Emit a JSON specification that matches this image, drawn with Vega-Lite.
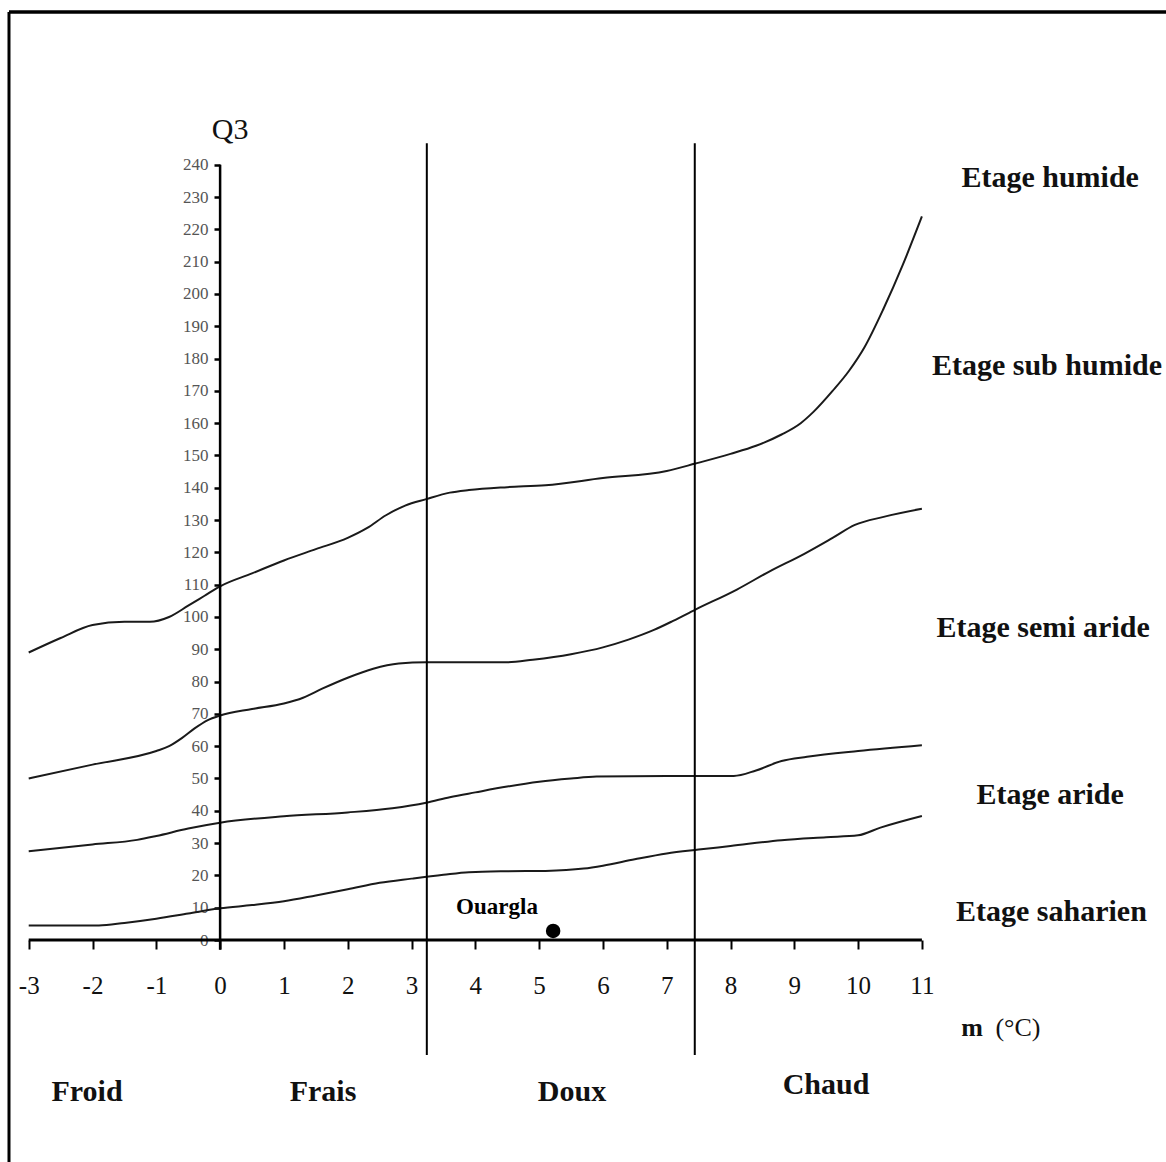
{
  "$schema": "https://vega.github.io/schema/vega-lite/v6.json",
  "width": 1166,
  "height": 1162,
  "padding": 0,
  "autosize": {"type": "none"},
  "background": "white",
  "config": {"view": {"stroke": null}, "font": "Liberation Serif"},
  "datasets": {
    "curves": [
      {"c": "c1", "x": -3, "q": 89}, {"c": "c1", "x": -2.5, "q": 93.5}, {"c": "c1", "x": -2, "q": 97.5}, {"c": "c1", "x": -1.5, "q": 98.5}, {"c": "c1", "x": -1.1, "q": 98.5}, {"c": "c1", "x": -0.8, "q": 100}, {"c": "c1", "x": -0.5, "q": 103.5}, {"c": "c1", "x": -0.25, "q": 106.5}, {"c": "c1", "x": 0, "q": 109.5}, {"c": "c1", "x": 0.5, "q": 113.5}, {"c": "c1", "x": 1, "q": 117.5}, {"c": "c1", "x": 1.5, "q": 121}, {"c": "c1", "x": 2, "q": 124.5}, {"c": "c1", "x": 2.3, "q": 127.5}, {"c": "c1", "x": 2.6, "q": 131.5}, {"c": "c1", "x": 2.9, "q": 134.5}, {"c": "c1", "x": 3.23, "q": 136.5}, {"c": "c1", "x": 3.6, "q": 138.5}, {"c": "c1", "x": 3.9, "q": 139.3}, {"c": "c1", "x": 4.5, "q": 140.2}, {"c": "c1", "x": 5.1, "q": 140.8}, {"c": "c1", "x": 6, "q": 143}, {"c": "c1", "x": 7, "q": 145.2}, {"c": "c1", "x": 7.45, "q": 147.5}, {"c": "c1", "x": 8, "q": 150.5}, {"c": "c1", "x": 8.4, "q": 153}, {"c": "c1", "x": 8.8, "q": 156.5}, {"c": "c1", "x": 9.1, "q": 160}, {"c": "c1", "x": 9.3, "q": 163.5}, {"c": "c1", "x": 9.6, "q": 170}, {"c": "c1", "x": 9.85, "q": 176}, {"c": "c1", "x": 10.1, "q": 183.5}, {"c": "c1", "x": 10.4, "q": 195.5}, {"c": "c1", "x": 10.7, "q": 209}, {"c": "c1", "x": 11, "q": 224},
      {"c": "c2", "x": -3, "q": 50}, {"c": "c2", "x": -2, "q": 54.3}, {"c": "c2", "x": -1, "q": 58.5}, {"c": "c2", "x": -0.8, "q": 60}, {"c": "c2", "x": -0.6, "q": 62.5}, {"c": "c2", "x": -0.4, "q": 65.5}, {"c": "c2", "x": -0.2, "q": 68}, {"c": "c2", "x": 0, "q": 69.5}, {"c": "c2", "x": 0.5, "q": 71.5}, {"c": "c2", "x": 1, "q": 73.2}, {"c": "c2", "x": 1.3, "q": 75}, {"c": "c2", "x": 1.6, "q": 77.8}, {"c": "c2", "x": 2, "q": 81.2}, {"c": "c2", "x": 2.4, "q": 84}, {"c": "c2", "x": 2.8, "q": 85.6}, {"c": "c2", "x": 3.23, "q": 86}, {"c": "c2", "x": 4.5, "q": 86}, {"c": "c2", "x": 4.9, "q": 86.8}, {"c": "c2", "x": 5.5, "q": 88.5}, {"c": "c2", "x": 6, "q": 90.6}, {"c": "c2", "x": 6.4, "q": 93}, {"c": "c2", "x": 6.8, "q": 96}, {"c": "c2", "x": 7.1, "q": 98.8}, {"c": "c2", "x": 7.45, "q": 102.3}, {"c": "c2", "x": 8.1, "q": 108.5}, {"c": "c2", "x": 8.6, "q": 114}, {"c": "c2", "x": 9.15, "q": 119.5}, {"c": "c2", "x": 9.6, "q": 124.5}, {"c": "c2", "x": 9.95, "q": 128.5}, {"c": "c2", "x": 10.4, "q": 131}, {"c": "c2", "x": 11, "q": 133.5},
      {"c": "c3", "x": -3, "q": 27.5}, {"c": "c3", "x": -2, "q": 29.6}, {"c": "c3", "x": -1.3, "q": 31}, {"c": "c3", "x": -1, "q": 32.2}, {"c": "c3", "x": -0.5, "q": 34.5}, {"c": "c3", "x": 0, "q": 36.3}, {"c": "c3", "x": 1, "q": 38.3}, {"c": "c3", "x": 2, "q": 39.5}, {"c": "c3", "x": 2.7, "q": 40.8}, {"c": "c3", "x": 3.23, "q": 42.5}, {"c": "c3", "x": 3.6, "q": 44.2}, {"c": "c3", "x": 4, "q": 45.7}, {"c": "c3", "x": 4.5, "q": 47.5}, {"c": "c3", "x": 5, "q": 49}, {"c": "c3", "x": 5.5, "q": 50}, {"c": "c3", "x": 5.9, "q": 50.6}, {"c": "c3", "x": 7, "q": 50.8}, {"c": "c3", "x": 8.05, "q": 50.8}, {"c": "c3", "x": 8.4, "q": 52.5}, {"c": "c3", "x": 8.8, "q": 55.4}, {"c": "c3", "x": 9.2, "q": 56.7}, {"c": "c3", "x": 10, "q": 58.5}, {"c": "c3", "x": 11, "q": 60.3},
      {"c": "c4", "x": -3, "q": 4.5}, {"c": "c4", "x": -1.9, "q": 4.5}, {"c": "c4", "x": -1.5, "q": 5.3}, {"c": "c4", "x": -1, "q": 6.6}, {"c": "c4", "x": -0.5, "q": 8.2}, {"c": "c4", "x": 0, "q": 9.8}, {"c": "c4", "x": 0.5, "q": 10.8}, {"c": "c4", "x": 1, "q": 12}, {"c": "c4", "x": 1.5, "q": 13.8}, {"c": "c4", "x": 2, "q": 15.7}, {"c": "c4", "x": 2.5, "q": 17.7}, {"c": "c4", "x": 3, "q": 19}, {"c": "c4", "x": 3.5, "q": 20.2}, {"c": "c4", "x": 3.9, "q": 21}, {"c": "c4", "x": 4.5, "q": 21.3}, {"c": "c4", "x": 5.1, "q": 21.4}, {"c": "c4", "x": 5.7, "q": 22.1}, {"c": "c4", "x": 6, "q": 23}, {"c": "c4", "x": 6.5, "q": 25}, {"c": "c4", "x": 7, "q": 26.8}, {"c": "c4", "x": 7.5, "q": 28}, {"c": "c4", "x": 8, "q": 29.1}, {"c": "c4", "x": 8.8, "q": 30.9}, {"c": "c4", "x": 9.5, "q": 31.8}, {"c": "c4", "x": 10, "q": 32.4}, {"c": "c4", "x": 10.35, "q": 34.8}, {"c": "c4", "x": 11, "q": 38.4}
    ],
    "one": [{}],
    "vlines": [{"x": 3.24}, {"x": 7.44}],
    "station": [{"name": "Ouargla", "x": 5.22, "q": 2.8}],
    "stationLabel": [{"name": "Ouargla", "x": 4.34, "q": 10.2}],
    "zones": [
      {"label": "Etage humide", "x": 13.01, "q": 235.9},
      {"label": "Etage sub humide", "x": 12.96, "q": 177.7},
      {"label": "Etage semi aride", "x": 12.9, "q": 96.6},
      {"label": "Etage aride", "x": 13.01, "q": 44.9},
      {"label": "Etage saharien", "x": 13.03, "q": 8.7},
      {"label": "Froid", "x": -2.086, "q": -47.1},
      {"label": "Frais", "x": 1.613, "q": -47.1},
      {"label": "Doux", "x": 5.516, "q": -47.1},
      {"label": "Chaud", "x": 9.497, "q": -44.9}
    ],
    "ytitle": [{"label": "Q3", "x": 0.158, "q": 250.8}],
    "xtitleA": [{"label": "m", "x": 11.785, "q": -27.2}],
    "xtitleB": [{"label": "(°C)", "x": 12.506, "q": -27.2}]
  },
  "layer": [
    {
      "data": {"name": "curves"},
      "mark": {"type": "line", "interpolate": "monotone", "color": "#1a1a1a", "strokeWidth": 2},
      "encoding": {
        "x": {"field": "x", "type": "quantitative", "scale": {"domain": [-3.45, 14.826], "nice": false, "zero": false},
          "axis": {"orient": "bottom", "offset": -222, "values": [-3, -2, -1, 0, 1, 2, 3, 4, 5, 6, 7, 8, 9, 10, 11], "labelExpr": "'' + datum.value", "domain": false, "grid": false, "tickSize": 9, "tickWidth": 2, "tickColor": "#000", "labelFont": "Liberation Serif", "labelFontSize": 25, "labelColor": "#111", "labelPadding": 24, "labelFlush": false, "labelOverlap": false, "title": null}},
        "y": {"field": "q", "type": "quantitative", "scale": {"domain": [-68.73, 291.02], "nice": false, "zero": false},
          "axis": {"orient": "left", "offset": -220, "values": [0, 10, 20, 30, 40, 50, 60, 70, 80, 90, 100, 110, 120, 130, 140, 150, 160, 170, 180, 190, 200, 210, 220, 230, 240], "labelExpr": "'' + datum.value", "domain": false, "grid": false, "tickSize": 6, "tickWidth": 2.5, "tickColor": "#000", "labelFont": "Liberation Serif", "labelFontSize": 17, "labelColor": "#555", "labelPadding": 6, "labelFlush": false, "labelOverlap": false, "title": null}},
        "detail": {"field": "c", "type": "nominal"}
      }
    },
    {
      "data": {"name": "one"},
      "mark": {"type": "rule", "color": "#000", "strokeWidth": 3},
      "encoding": {
        "x": {"datum": -3.309, "type": "quantitative", "scale": {"domain": [-3.45, 14.826], "nice": false, "zero": false}},
        "y": {"datum": -68.73, "type": "quantitative", "scale": {"domain": [-68.73, 291.02], "nice": false, "zero": false}},
        "y2": {"datum": 287.3}
      }
    },
    {
      "data": {"name": "one"},
      "mark": {"type": "rule", "color": "#000", "strokeWidth": 3.5},
      "encoding": {
        "x": {"datum": -3.309, "type": "quantitative", "scale": {"domain": [-3.45, 14.826], "nice": false, "zero": false}},
        "x2": {"datum": 14.826},
        "y": {"datum": 287.3, "type": "quantitative", "scale": {"domain": [-68.73, 291.02], "nice": false, "zero": false}}
      }
    },
    {
      "data": {"name": "one"},
      "mark": {"type": "rule", "color": "#000", "strokeWidth": 3},
      "encoding": {
        "x": {"datum": -3, "type": "quantitative", "scale": {"domain": [-3.45, 14.826], "nice": false, "zero": false}},
        "x2": {"datum": 11},
        "y": {"datum": 0, "type": "quantitative", "scale": {"domain": [-68.73, 291.02], "nice": false, "zero": false}}
      }
    },
    {
      "data": {"name": "one"},
      "mark": {"type": "rule", "color": "#000", "strokeWidth": 2.5},
      "encoding": {
        "x": {"datum": 0, "type": "quantitative", "scale": {"domain": [-3.45, 14.826], "nice": false, "zero": false}},
        "y": {"datum": -3, "type": "quantitative", "scale": {"domain": [-68.73, 291.02], "nice": false, "zero": false}},
        "y2": {"datum": 240}
      }
    },
    {
      "data": {"name": "vlines"},
      "mark": {"type": "rule", "color": "#000", "strokeWidth": 2},
      "encoding": {
        "x": {"field": "x", "type": "quantitative", "scale": {"domain": [-3.45, 14.826], "nice": false, "zero": false}},
        "y": {"datum": -35.6, "type": "quantitative", "scale": {"domain": [-68.73, 291.02], "nice": false, "zero": false}},
        "y2": {"datum": 246.7}
      }
    },
    {
      "data": {"name": "station"},
      "mark": {"type": "point", "shape": "circle", "filled": true, "color": "#000", "opacity": 1, "size": 210},
      "encoding": {
        "x": {"field": "x", "type": "quantitative", "scale": {"domain": [-3.45, 14.826], "nice": false, "zero": false}},
        "y": {"field": "q", "type": "quantitative", "scale": {"domain": [-68.73, 291.02], "nice": false, "zero": false}}
      }
    },
    {
      "data": {"name": "stationLabel"},
      "mark": {"type": "text", "font": "Liberation Serif", "fontSize": 23, "fontWeight": "bold", "color": "#000", "align": "center", "baseline": "middle"},
      "encoding": {
        "x": {"field": "x", "type": "quantitative", "scale": {"domain": [-3.45, 14.826], "nice": false, "zero": false}},
        "y": {"field": "q", "type": "quantitative", "scale": {"domain": [-68.73, 291.02], "nice": false, "zero": false}},
        "text": {"field": "name"}
      }
    },
    {
      "data": {"name": "zones"},
      "mark": {"type": "text", "font": "Liberation Serif", "fontSize": 30, "fontWeight": "bold", "color": "#111", "align": "center", "baseline": "middle"},
      "encoding": {
        "x": {"field": "x", "type": "quantitative", "scale": {"domain": [-3.45, 14.826], "nice": false, "zero": false}},
        "y": {"field": "q", "type": "quantitative", "scale": {"domain": [-68.73, 291.02], "nice": false, "zero": false}},
        "text": {"field": "label"}
      }
    },
    {
      "data": {"name": "ytitle"},
      "mark": {"type": "text", "font": "Liberation Serif", "fontSize": 30, "color": "#111", "align": "center", "baseline": "middle"},
      "encoding": {
        "x": {"field": "x", "type": "quantitative", "scale": {"domain": [-3.45, 14.826], "nice": false, "zero": false}},
        "y": {"field": "q", "type": "quantitative", "scale": {"domain": [-68.73, 291.02], "nice": false, "zero": false}},
        "text": {"field": "label"}
      }
    },
    {
      "data": {"name": "xtitleA"},
      "mark": {"type": "text", "font": "Liberation Serif", "fontSize": 26, "fontWeight": "bold", "color": "#111", "align": "center", "baseline": "middle"},
      "encoding": {
        "x": {"field": "x", "type": "quantitative", "scale": {"domain": [-3.45, 14.826], "nice": false, "zero": false}},
        "y": {"field": "q", "type": "quantitative", "scale": {"domain": [-68.73, 291.02], "nice": false, "zero": false}},
        "text": {"field": "label"}
      }
    },
    {
      "data": {"name": "xtitleB"},
      "mark": {"type": "text", "font": "Liberation Serif", "fontSize": 26, "color": "#111", "align": "center", "baseline": "middle"},
      "encoding": {
        "x": {"field": "x", "type": "quantitative", "scale": {"domain": [-3.45, 14.826], "nice": false, "zero": false}},
        "y": {"field": "q", "type": "quantitative", "scale": {"domain": [-68.73, 291.02], "nice": false, "zero": false}},
        "text": {"field": "label"}
      }
    }
  ]
}
